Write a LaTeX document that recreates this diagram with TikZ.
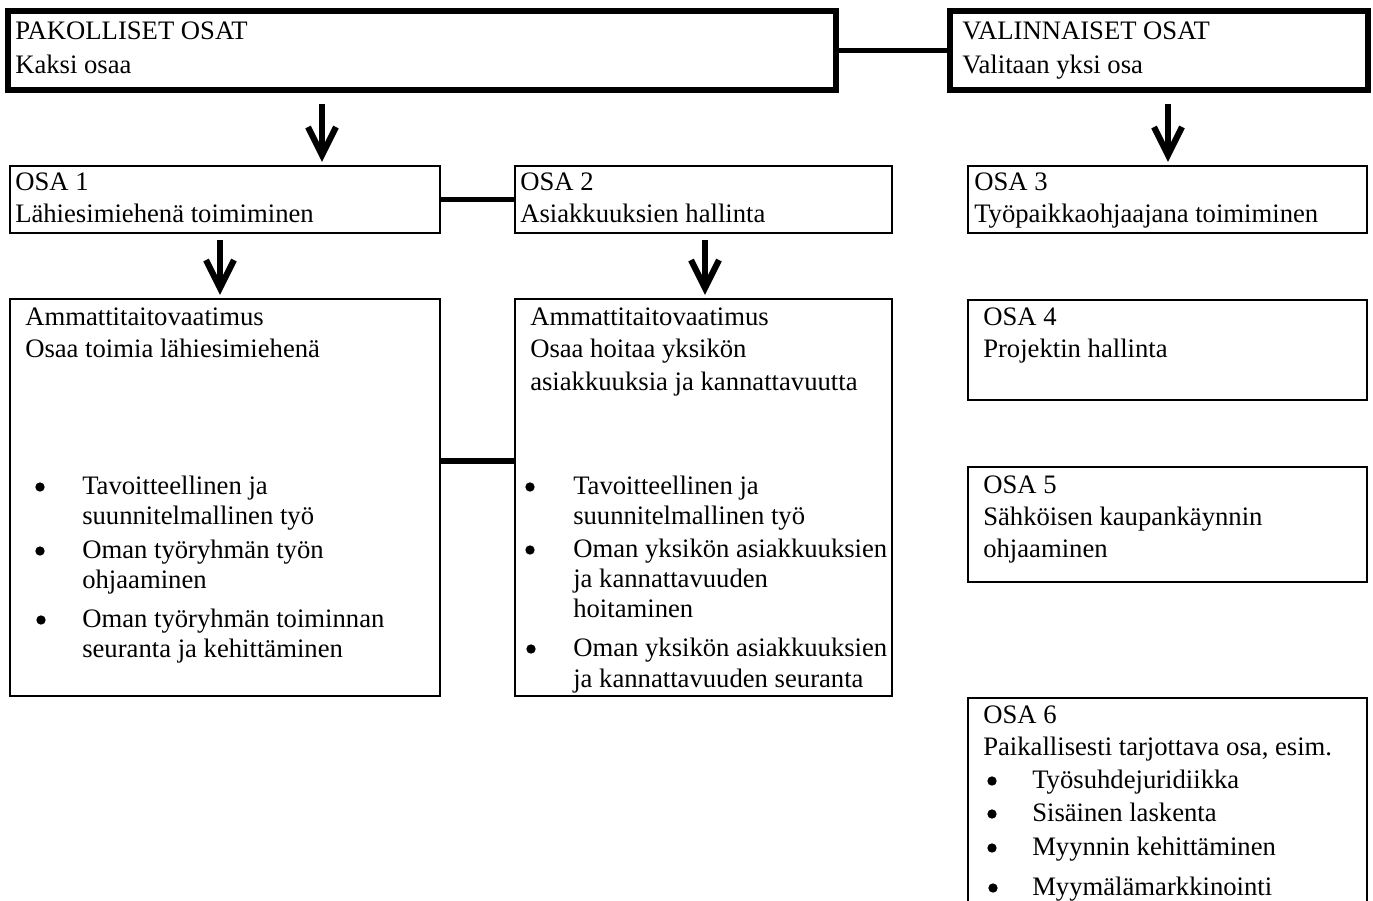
\documentclass[tikz,border=0pt]{standalone}
\usepackage{fontspec}
\setmainfont{Liberation Serif}
\usetikzlibrary{calc,fit}
\tikzset{
  px/.style={x=0.75pt,y=-0.75pt},
  thickbox/.style={draw=black,line width=4.3pt,inner sep=0pt},
  thinbox/.style={draw=black,line width=1.5pt,inner sep=0pt},
  conn/.style={draw=black,line width=3.9pt},
  arr/.style={draw=black,line width=4.6pt,line join=miter,line cap=butt},
  txt/.style={anchor=base west,inner sep=0pt,font=\fontsize{20}{24}\selectfont},
  dot/.style={circle,fill=black,inner sep=0pt,minimum size=7pt},
}
\newcommand{\mkbox}[6]{%
  \coordinate (#2-nw) at (#3,#4);
  \coordinate (#2-se) at (#5,#6);
  \node[#1,fit=(#2-nw)(#2-se)] (#2) {};}
\newcommand{\bigarrow}[3]{% name, start coord, tip coord
  \draw[arr] (#2) -- (#3);
  \draw[arr] ($(#3)+(-14,-28)$) -- (#3) -- ($(#3)+(14,-28)$);}
% bullet: name, x, baseline y
\newcommand{\bul}[3]{\node[dot] (#1) at (#2,#3-7) {};}
\begin{document}
\begin{tikzpicture}[px]
\clip (0,0) rectangle (1373,900);
\fill[white] (0,0) rectangle (1373,900);
% boxes
\mkbox{thickbox}{pak}{8}{11}{836}{90}
\mkbox{thickbox}{val}{950}{11}{1368}{90}
\mkbox{thinbox}{osa1}{10}{166}{440}{233}
\mkbox{thinbox}{osa2}{515}{166}{892}{233}
\mkbox{thinbox}{osa3}{968}{166}{1367}{233}
\mkbox{thinbox}{am1}{10}{299}{440}{696}
\mkbox{thinbox}{am2}{515}{299}{892}{696}
\mkbox{thinbox}{osa4}{968}{300}{1367}{400}
\mkbox{thinbox}{osa5}{968}{467}{1367}{582}
\mkbox{thinbox}{osa6}{968}{698}{1367}{960}
% connectors
\draw[conn] (pak.east) -- (val.west);
\draw[conn] (osa1.east) -- (osa2.west);
\coordinate (cy) at (0,461);
\draw[conn] (am1.east |- cy) -- (am2.west |- cy);
% arrows
\coordinate (a1s) at (322,104);
\coordinate (a1t) at ($(osa1.north west -| a1s)+(0,-10)$);
\bigarrow{a1}{a1s}{a1t}
\coordinate (a2s) at (1168,104);
\coordinate (a2t) at ($(osa3.north west -| a2s)+(0,-10)$);
\bigarrow{a2}{a2s}{a2t}
\coordinate (a3s) at (220,240);
\coordinate (a3t) at ($(am1.north west -| a3s)+(0,-10)$);
\bigarrow{a3}{a3s}{a3t}
\coordinate (a4s) at (705,240);
\coordinate (a4t) at ($(am2.north west -| a4s)+(0,-10)$);
\bigarrow{a4}{a4s}{a4t}
% texts top
\node[txt] (tp1) at (15,39) {PAKOLLISET OSAT};
\node[txt] (tp2) at (15,73) {Kaksi osaa};
\node[txt] (tv1) at (962,39) {VALINNAISET OSAT};
\node[txt] (tv2) at (962,73) {Valitaan yksi osa};
% osa 1-3
\node[txt] (t11) at (15,190) {OSA 1};
\node[txt] (t12) at (15,222) {Lähiesimiehenä toimiminen};
\node[txt] (t21) at (520,190) {OSA 2};
\node[txt] (t22) at (520,222) {Asiakkuuksien hallinta};
\node[txt] (t31) at (974,190) {OSA 3};
\node[txt] (t32) at (974,222) {Työpaikkaohjaajana toimiminen};
% am1
\node[txt] (m11) at (25,325) {Ammattitaitovaatimus};
\node[txt] (m12) at (25,357) {Osaa toimia lähiesimiehenä};
\bul{b11}{40}{494}
\node[txt] (m13) at (82,494) {Tavoitteellinen ja};
\node[txt] (m14) at (82,524) {suunnitelmallinen työ};
\bul{b12}{40}{558}
\node[txt] (m15) at (82,558) {Oman työryhmän työn};
\node[txt] (m16) at (82,588) {ohjaaminen};
\bul{b13}{41}{627}
\node[txt] (m17) at (82,627) {Oman työryhmän toiminnan};
\node[txt] (m18) at (82,657) {seuranta ja kehittäminen};
% am2
\node[txt] (m21) at (530,325) {Ammattitaitovaatimus};
\node[txt] (m22) at (530,357) {Osaa hoitaa yksikön};
\node[txt] (m23) at (530,390) {asiakkuuksia ja kannattavuutta};
\bul{b21}{530}{494}
\node[txt] (m24) at (573,494) {Tavoitteellinen ja};
\node[txt] (m25) at (573,524) {suunnitelmallinen työ};
\bul{b22}{530}{557}
\node[txt] (m26) at (573,557) {Oman yksikön asiakkuuksien};
\node[txt] (m27) at (573,587) {ja kannattavuuden};
\node[txt] (m28) at (573,617) {hoitaminen};
\bul{b23}{531}{656}
\node[txt] (m29) at (573,656) {Oman yksikön asiakkuuksien};
\node[txt] (m2a) at (573,687) {ja kannattavuuden seuranta};
% osa 4-6
\node[txt] (t41) at (983,325) {OSA 4};
\node[txt] (t42) at (983,357) {Projektin hallinta};
\node[txt] (t51) at (983,493) {OSA 5};
\node[txt] (t52) at (983,525) {Sähköisen kaupankäynnin};
\node[txt] (t53) at (983,557) {ohjaaminen};
\node[txt] (t61) at (983,723) {OSA 6};
\node[txt] (t62) at (983,755) {Paikallisesti tarjottava osa, esim.};
\bul{b61}{992}{788}
\node[txt] (t63) at (1032,788) {Työsuhdejuridiikka};
\bul{b62}{992}{821}
\node[txt] (t64) at (1032,821) {Sisäinen laskenta};
\bul{b63}{992}{855}
\node[txt] (t65) at (1032,855) {Myynnin kehittäminen};
\bul{b64}{993}{895}
\node[txt] (t66) at (1032,895) {Myymälämarkkinointi};
\end{tikzpicture}
\end{document}
